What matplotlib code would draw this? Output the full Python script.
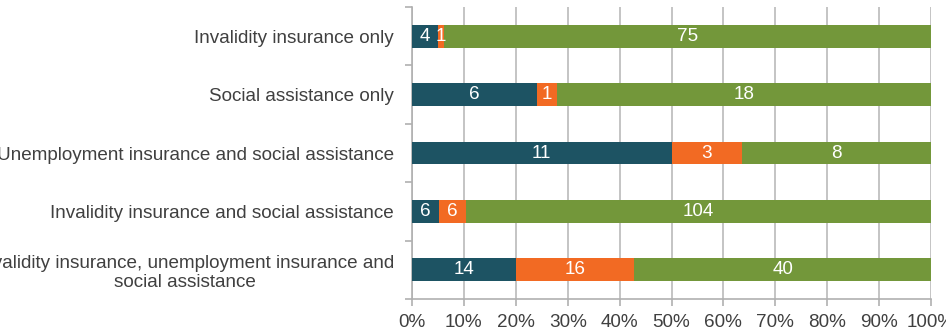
import matplotlib.pyplot as plt
import numpy as np

plt.rcParams['font.family'] = ['Liberation Sans', 'DejaVu Sans']

categories = [
    "Invalidity insurance only",
    "Social assistance only",
    "Unemployment insurance and social assistance",
    "Invalidity insurance and social assistance",
    "Invalidity insurance, unemployment insurance and\nsocial assistance",
]
teal_vals = [4, 6, 11, 6, 14]
orange_vals = [1, 1, 3, 6, 16]
green_vals = [75, 18, 8, 104, 40]
xtick_labels = [f"{p}%" for p in range(0, 101, 10)]

colors = ['#1d5363', '#f26a23', '#73973a']
series = [np.array(teal_vals, float), np.array(orange_vals, float), np.array(green_vals, float)]
totals = sum(series)

fig = plt.figure(figsize=(9.46, 3.33), dpi=100)
ax = fig.add_axes([412 / 946, 1 - 299 / 333, (931 - 412) / 946, (299 - 7) / 333])

y = np.arange(len(categories))
left = np.zeros(len(categories))
for vals, c in zip(series, colors):
    share = vals / totals * 100
    ax.barh(y, share, left=left, height=0.39, color=c, zorder=3)
    for yi, l, w, v in zip(y, left, share, vals):
        ax.text(l + w / 2, yi, f"{int(v)}", ha='center', va='center',
                color='white', fontsize=13.6, zorder=4)
    left += share

ax.set_xlim(0, 100)
ax.set_ylim(len(categories) - 0.5, -0.5)
ax.set_xticks(range(0, 101, 10))
ax.set_xticklabels(xtick_labels)
ax.set_yticks(y)
ax.set_yticklabels(categories, multialignment='center')
ax.set_yticks(np.arange(-0.5, len(categories), 1), minor=True)

ax.tick_params(axis='y', which='major', length=0, pad=13, labelsize=13.6, labelcolor='#404040')
ax.tick_params(axis='y', which='minor', length=5, color='#b0b0b0', width=1.2)
ax.tick_params(axis='x', length=5, color='#b0b0b0', width=1.2, labelsize=13.6,
               labelcolor='#404040', pad=6)

ax.grid(axis='x', color='#c4c4c4', linewidth=1.4, zorder=0)
for s in ['top', 'right']:
    ax.spines[s].set_visible(False)
for s in ['left', 'bottom']:
    ax.spines[s].set_color('#b0b0b0')
    ax.spines[s].set_linewidth(1.2)

fig.savefig('out.png', dpi=100)
